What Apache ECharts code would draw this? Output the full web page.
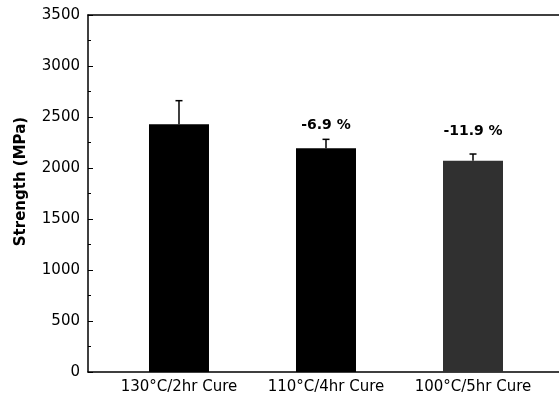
<!DOCTYPE html>
<html>
<head>
<meta charset="utf-8">
<script src="https://cdn.jsdelivr.net/npm/echarts@6/dist/echarts.min.js"></script>
<style>html,body{margin:0;padding:0;background:#fff}#c{width:559px;height:403px}</style>
</head>
<body>
<div id="c"></div>
<script>
const categories = ['130°C/2hr Cure', '110°C/4hr Cure', '100°C/5hr Cure'];
const positions = [1, 2, 3];
const strength = [2428, 2193, 2072];
const errorTop = [2660, 2281, 2137];
const changeLabels = ['', '-6.9 %', '-11.9 %'];
const barColors = ['#000000', '#000000', '#303030'];
const yTicks = [0, 500, 1000, 1500, 2000, 2500, 3000, 3500];

const chart = echarts.init(document.getElementById('c'));
const font = 'DejaVu Sans, sans-serif';
const labelGap = [0, 16, 22];

chart.setOption({
  animation: false,
  grid: { left: 88, right: 0, top: 15, bottom: 31 },
  xAxis: [{
    type: 'value',
    min: 0.381,
    max: 3.585,
    splitLine: { show: false },
    axisLine: { show: true, lineStyle: { color: '#000', width: 1.5 } },
    axisTick: { show: false },
    axisLabel: {
      customValues: positions,
      formatter: v => categories[positions.indexOf(v)] || '',
      color: '#000', fontFamily: font, fontSize: 15, margin: 8
    }
  }, {
    type: 'value',
    position: 'top',
    min: 0.381,
    max: 3.585,
    splitLine: { show: false },
    axisLine: { show: true, onZero: false, lineStyle: { color: '#000', width: 1.5 } },
    axisTick: { show: false },
    axisLabel: { show: false }
  }],
  yAxis: {
    type: 'value',
    min: 0, max: 3500, interval: 500,
    name: 'Strength (MPa)',
    nameLocation: 'middle',
    nameGap: 59,
    nameTextStyle: { color: '#000', fontFamily: font, fontSize: 15, fontWeight: 'bold', padding: [0, 0, 0, 24] },
    splitLine: { show: false },
    axisLine: { show: true, lineStyle: { color: '#000', width: 1.5 } },
    axisTick: { show: true, inside: true, length: 5, lineStyle: { color: '#000' } },
    minorTick: { show: true, splitNumber: 2, length: 3, lineStyle: { color: '#000' } },
    axisLabel: { color: '#000', fontFamily: font, fontSize: 15, margin: 8,
      customValues: yTicks, formatter: v => String(v) }
  },
  series: [{
    type: 'bar',
    barWidth: 60,
    data: positions.map((p, i) => ({
      value: [p, strength[i]],
      itemStyle: { color: barColors[i] },
      label: { distance: labelGap[i] }
    })),
    label: {
      show: true,
      position: 'top',
      formatter: p => changeLabels[p.dataIndex],
      color: '#000', fontFamily: font, fontSize: 14, fontWeight: 'bold'
    }
  }, {
    type: 'custom',
    data: positions.map((p, i) => [p, strength[i], errorTop[i]]),
    renderItem: (params, api) => {
      const x = api.value(0);
      const b = api.coord([x, api.value(1)]);
      const t = api.coord([x, api.value(2)]);
      return {
        type: 'group',
        children: [
          { type: 'line', shape: { x1: b[0], y1: b[1], x2: t[0], y2: t[1] }, style: { stroke: '#000', lineWidth: 1.5 } },
          { type: 'line', shape: { x1: t[0] - 3.5, y1: t[1], x2: t[0] + 3.5, y2: t[1] }, style: { stroke: '#000', lineWidth: 1.5 } }
        ]
      };
    },
    z: 3
  }]
});
</script>
</body>
</html>
